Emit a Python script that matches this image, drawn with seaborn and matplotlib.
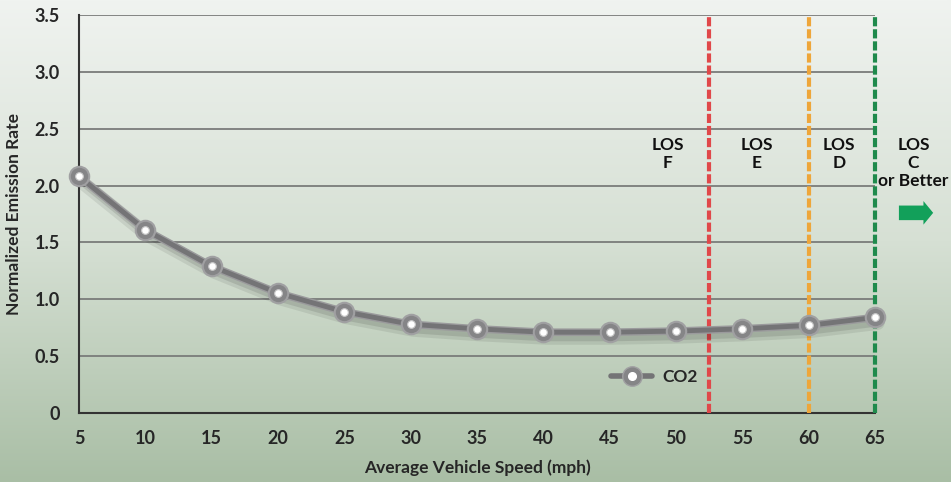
import numpy as np
import matplotlib
matplotlib.use("Agg")
import matplotlib.pyplot as plt
import matplotlib.patheffects as pe
from matplotlib.lines import Line2D
from matplotlib.legend_handler import HandlerTuple
from matplotlib.colors import LinearSegmentedColormap
import seaborn as sns
import pandas as pd

# --- data ---
speeds = [5, 10, 15, 20, 25, 30, 35, 40, 45, 50, 55, 60, 65]
co2_rate = [2.08, 1.61, 1.29, 1.055, 0.89, 0.78, 0.74, 0.71, 0.71, 0.72, 0.74, 0.77, 0.84]
los_bounds = [52.5, 60, 65]
los_colors = ["#e0484a", "#eea63a", "#1f8a4c"]
los_labels = ["LOS\nF", "LOS\nE", "LOS\nD", "LOS\nC\nor Better"]
los_label_x = [49.4, 56.1, 62.3, 67.9]

df = pd.DataFrame({"speed": speeds, "rate": co2_rate})

sns.set_style("white")
plt.rcParams["font.family"] = ["Lato", "DejaVu Sans"]
plt.rcParams["font.weight"] = "bold"

fig = plt.figure(figsize=(9.51, 4.82), dpi=100)

# background gradient
bg = fig.add_axes([0, 0, 1, 1], zorder=-10)
cmap = LinearSegmentedColormap.from_list("bg", ["#f0f3f0", "#d6e0d4", "#a9bea5"])
grad = np.linspace(0, 1, 256).reshape(-1, 1)
bg.imshow(grad, aspect="auto", cmap=cmap, extent=[0, 1, 0, 1], origin="upper")
bg.axis("off")

ax = fig.add_axes([0.0831, 0.1432, 0.8369, 0.8257])
ax.patch.set_alpha(0)

# grid lines
for yv in np.arange(0.5, 3.51, 0.5):
    ax.axhline(yv, color="#7a7c7a", lw=1.3, zorder=1)

# soft shadow under the line
shadow = [pe.SimpleLineShadow(offset=(2, -4), shadow_color="black", alpha=0.08, linewidth=10),
          pe.SimpleLineShadow(offset=(2, -4), shadow_color="black", alpha=0.10, linewidth=5),
          pe.Stroke(linewidth=5.5, foreground="#9a9a9c"),
          pe.Normal()]
sns.lineplot(data=df, x="speed", y="rate", ax=ax, color="#747476", lw=3.5,
             zorder=5, path_effects=shadow, clip_on=False)
ax.plot(speeds, co2_rate, ls="none", marker="o", markersize=14,
        markerfacecolor="#858587", markeredgecolor="#a0a0a2", markeredgewidth=1.5,
        zorder=6, clip_on=False)
ax.plot(speeds, co2_rate, ls="none", marker="o", markersize=5.5,
        markerfacecolor="white", markeredgecolor="#c8c8c8", markeredgewidth=0.8,
        zorder=7, clip_on=False)

for xb, c in zip(los_bounds, los_colors):
    ax.axvline(xb, color=c, lw=3, ls=(0, (2.2, 0.7)), zorder=3, clip_on=False)

for xt, txt in zip(los_label_x, los_labels):
    ax.text(xt, 2.43, txt, ha="center", va="top", fontsize=12.5,
            fontweight="bold", color="#111111", linespacing=1.15, clip_on=False)

ax.annotate("", xy=(69.6, 1.76), xytext=(66.6, 1.76),
            arrowprops=dict(arrowstyle="simple,head_length=0.7,head_width=1.7,tail_width=1.05",
                            color="#12a05a", lw=0),
            annotation_clip=False)

ax.set_xlim(5, 65)
ax.set_ylim(0, 3.5)
ax.set_xticks(range(5, 66, 5))
ax.set_yticks(np.arange(0, 3.51, 0.5))
ax.set_yticklabels(["0"] + [f"{v:.1f}" for v in np.arange(0.5, 3.51, 0.5)])
ax.tick_params(axis="both", length=0, labelsize=13)
ax.tick_params(axis="x", pad=12)
ax.tick_params(axis="y", pad=14)
for lab in ax.get_xticklabels() + ax.get_yticklabels():
    lab.set_fontweight("bold")

ax.set_xlabel("Average Vehicle Speed (mph)", fontsize=12.5, fontweight="bold", labelpad=9)
ax.set_ylabel("Normalized Emission Rate", fontsize=12.5, fontweight="bold", labelpad=9)

for side in ["top", "right"]:
    ax.spines[side].set_visible(False)
for side in ["left", "bottom"]:
    ax.spines[side].set_color("#333333")
    ax.spines[side].set_linewidth(1.5)

h1 = Line2D([], [], color="#747476", lw=4, marker="o", markersize=14,
            markerfacecolor="#858587", markeredgecolor="#a0a0a2")
h2 = Line2D([], [], ls="none", marker="o", markersize=5.5, color="white")
ax.legend([(h1, h2)], ["CO2"], handler_map={tuple: HandlerTuple(ndivide=1)},
          loc="center", bbox_to_anchor=(0.723, 0.09), frameon=False,
          prop={"weight": "bold", "size": 12.5}, handlelength=2.4, handletextpad=0.6)

fig.savefig("out.png", dpi=100)
